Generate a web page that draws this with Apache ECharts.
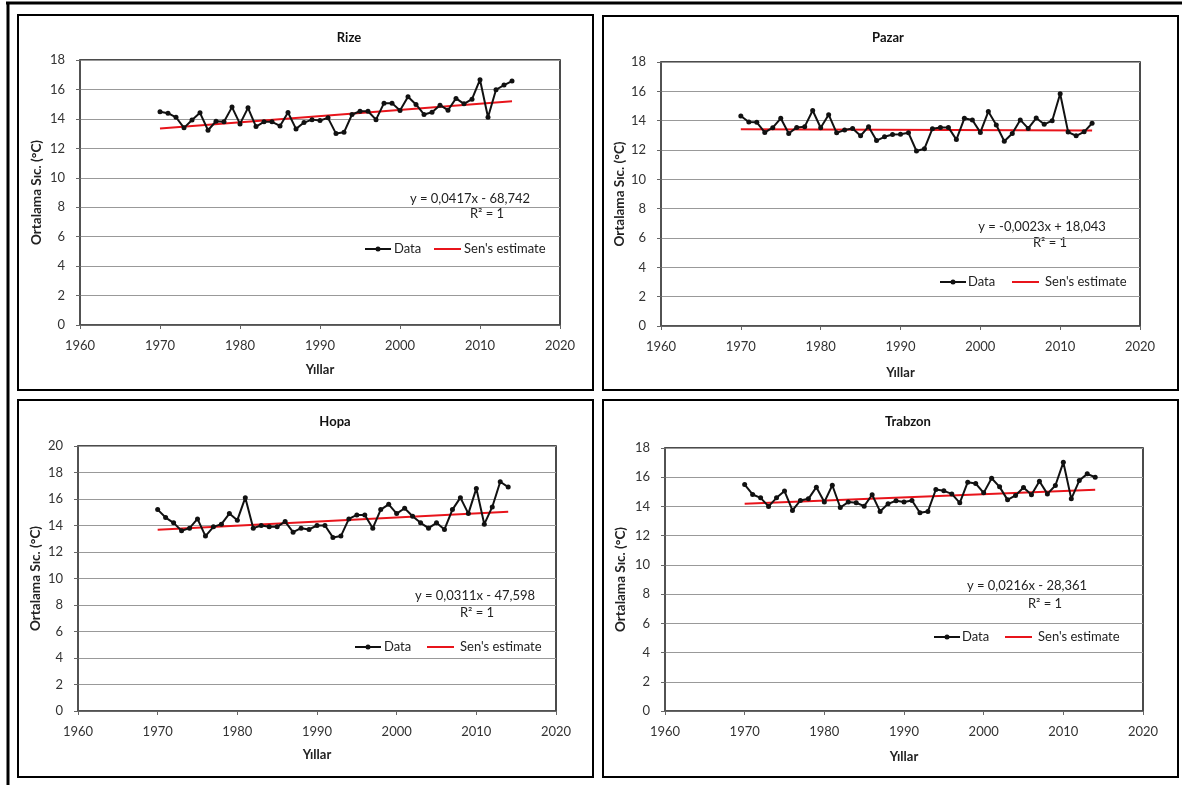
<!DOCTYPE html>
<html><head><meta charset="utf-8">
<script src="https://cdn.jsdelivr.net/npm/echarts@6/dist/echarts.min.js"></script>
<style>html,body{margin:0;padding:0;background:#fff}#c{width:1185px;height:785px}</style>
</head><body><div id="c"></div>
<script>
const years = [1970,1971,1972,1973,1974,1975,1976,1977,1978,1979,1980,1981,1982,1983,1984,1985,1986,1987,1988,1989,1990,1991,1992,1993,1994,1995,1996,1997,1998,1999,2000,2001,2002,2003,2004,2005,2006,2007,2008,2009,2010,2011,2012,2013,2014];
const rize = [14.48,14.39,14.11,13.39,13.93,14.41,13.23,13.84,13.80,14.80,13.66,14.75,13.48,13.80,13.80,13.52,14.43,13.32,13.75,13.95,13.89,14.07,13.00,13.09,14.30,14.52,14.52,13.95,15.07,15.07,14.57,15.50,14.98,14.30,14.45,14.93,14.59,15.39,15.02,15.34,16.66,14.11,15.98,16.30,16.57];
const pazar = [14.32,13.91,13.89,13.20,13.52,14.16,13.13,13.54,13.59,14.69,13.52,14.41,13.17,13.36,13.47,12.97,13.59,12.64,12.90,13.06,13.08,13.17,11.93,12.09,13.45,13.54,13.54,12.71,14.16,14.05,13.20,14.62,13.70,12.60,13.13,14.05,13.47,14.18,13.75,14.00,15.84,13.22,12.97,13.24,13.82];
const hopa = [15.2,14.6,14.2,13.6,13.8,14.5,13.2,13.9,14.1,14.9,14.4,16.1,13.8,14.0,13.9,13.9,14.3,13.5,13.8,13.7,14.0,14.0,13.1,13.2,14.5,14.8,14.8,13.8,15.2,15.6,14.9,15.3,14.7,14.2,13.8,14.2,13.7,15.2,16.1,14.9,16.8,14.1,15.4,17.3,16.9];
const trabzon = [15.50,14.82,14.59,14.00,14.59,15.05,13.73,14.41,14.52,15.32,14.30,15.45,13.93,14.30,14.25,14.02,14.80,13.66,14.18,14.39,14.30,14.41,13.57,13.66,15.16,15.07,14.86,14.25,15.66,15.57,14.93,15.93,15.34,14.45,14.75,15.30,14.80,15.73,14.86,15.43,17.02,14.52,15.77,16.23,16.00];
const trendYears = [1970, 2014];
const rizeTrend = [13.34, 15.20];
const pazarTrend = [13.42, 13.33];
const hopaTrend = [13.67, 15.04];
const trabzonTrend = [14.18, 15.15];
const panelTitles = ['Rize', 'Pazar', 'Hopa', 'Trabzon'];
const equations = ['y = 0,0417x - 68,742', 'y = -0,0023x + 18,043', 'y = 0,0311x - 47,598', 'y = 0,0216x - 28,361'];
const r2Text = 'R² = 1';
const yMaxes = [18, 18, 20, 18];
const xMin = 1960, xMax = 2020, xStep = 10, yStep = 2;
const yName = 'Ortalama Sıc. (°C)';
const xName = 'Yıllar';
const seriesNames = ['Data', "Sen's estimate"];

const dataSets = [rize, pazar, hopa, trabzon];
const trends = [rizeTrend, pazarTrend, hopaTrend, trabzonTrend];

const FONT = 'Lato, "Liberation Sans", sans-serif';
const layout = [
  {grid:{left:80,top:60,width:480,height:265}, box:[18,15,575,375], title:[349,38], eq:[470,199], r2:[487,214], legend:{y:249, l1:365, t1:394, l2:434, t2:464}, yGap:36, xGap:38},
  {grid:{left:661,top:62,width:479,height:264}, box:[603,16,575,374], title:[888,38], eq:[1042,227], r2:[1050,243], legend:{y:282, l1:940, t1:968, l2:1012, t2:1045}, yGap:32, xGap:40},
  {grid:{left:78,top:446,width:478,height:265}, box:[18,400,575,377], title:[335,422], eq:[475,596], r2:[477,613], legend:{y:647, l1:355, t1:384, l2:427, t2:460}, yGap:35, xGap:37},
  {grid:{left:665,top:448,width:478,height:263}, box:[603,400,575,377], title:[908,422], eq:[1027,586], r2:[1045,604], legend:{y:637, l1:934, t1:962, l2:1005, t2:1038}, yGap:37, xGap:39}
];

const grids = [], xAxes = [], yAxes = [], series = [], graphics = [];
layout.forEach((L, i) => {
  grids.push(Object.assign({show:true, borderColor:'#111', borderWidth:1.5, backgroundColor:'transparent'}, L.grid));
  xAxes.push({type:'value', gridIndex:i, min:xMin, max:xMax, interval:xStep,
    name:xName, nameLocation:'middle', nameGap:L.xGap,
    nameTextStyle:{fontFamily:FONT, fontWeight:'bold', fontSize:13, color:'#222'},
    axisLine:{show:true, onZero:false, lineStyle:{color:'#555', width:1.5}},
    axisTick:{show:true, length:4, lineStyle:{color:'#666'}},
    axisLabel:{fontFamily:FONT, fontSize:13, color:'#333', margin:14, formatter: v => String(v)},
    splitLine:{show:false}});
  yAxes.push({type:'value', gridIndex:i, min:0, max:yMaxes[i], interval:yStep,
    name:yName, nameLocation:'middle', nameGap:L.yGap, nameRotate:90,
    nameTextStyle:{fontFamily:FONT, fontWeight:'bold', fontSize:13.5, color:'#222'},
    axisLine:{show:true, lineStyle:{color:'#555', width:1.5}},
    axisTick:{show:true, length:4, lineStyle:{color:'#666'}},
    axisLabel:{fontFamily:FONT, fontSize:13, color:'#333', margin:15, formatter: v => String(v)},
    splitLine:{show:true, lineStyle:{color:'#999', width:1}}});
  series.push({name:seriesNames[0], type:'line', xAxisIndex:i, yAxisIndex:i,
    data: years.map((y, k) => [y, dataSets[i][k]]),
    symbol:'circle', symbolSize:5, itemStyle:{color:'#111'}, lineStyle:{color:'#111', width:2},
    z:3, animation:false});
  series.push({name:seriesNames[1], type:'line', xAxisIndex:i, yAxisIndex:i,
    data: trendYears.map((y, k) => [y, trends[i][k]]),
    symbol:'none', itemStyle:{color:'#e8141b'}, lineStyle:{color:'#e8141b', width:2},
    z:2, animation:false});
  const g = L.legend;
  graphics.push({type:'line', shape:{x1:g.l1, y1:g.y, x2:g.l1 + 26, y2:g.y}, style:{stroke:'#111', lineWidth:2}});
  graphics.push({type:'circle', shape:{cx:g.l1 + 13, cy:g.y, r:2.5}, style:{fill:'#111'}});
  graphics.push({type:'text', x:g.t1, y:g.y, style:{text:seriesNames[0], font:'13px ' + FONT, fill:'#222', textVerticalAlign:'middle'}});
  graphics.push({type:'line', shape:{x1:g.l2, y1:g.y, x2:g.l2 + 27, y2:g.y}, style:{stroke:'#e8141b', lineWidth:2}});
  graphics.push({type:'text', x:g.t2, y:g.y, style:{text:seriesNames[1], font:'13px ' + FONT, fill:'#222', textVerticalAlign:'middle'}});
  graphics.push({type:'rect', shape:{x:L.box[0], y:L.box[1], width:L.box[2], height:L.box[3]},
    style:{fill:'none', stroke:'#000', lineWidth:2}, silent:true});
  graphics.push({type:'text', x:L.title[0], y:L.title[1], style:{text:panelTitles[i], font:'bold 13px ' + FONT, fill:'#111', textAlign:'center', textVerticalAlign:'middle'}});
  graphics.push({type:'text', x:L.eq[0], y:L.eq[1], style:{text:equations[i], font:'13px ' + FONT, fill:'#222', textAlign:'center', textVerticalAlign:'middle'}});
  graphics.push({type:'text', x:L.r2[0], y:L.r2[1], style:{text:r2Text, font:'13px ' + FONT, fill:'#222', textAlign:'center', textVerticalAlign:'middle'}});
});
graphics.push({type:'line', shape:{x1:6, y1:3, x2:1182, y2:3}, style:{stroke:'#000', lineWidth:3}});
graphics.push({type:'line', shape:{x1:8, y1:2, x2:8, y2:785}, style:{stroke:'#000', lineWidth:3}});

const chart = echarts.init(document.getElementById('c'), null, {renderer:'canvas'});
chart.setOption({
  animation:false,
  backgroundColor:'#fff',
  grid:grids, xAxis:xAxes, yAxis:yAxes, series:series, graphic:graphics
});
</script></body></html>
